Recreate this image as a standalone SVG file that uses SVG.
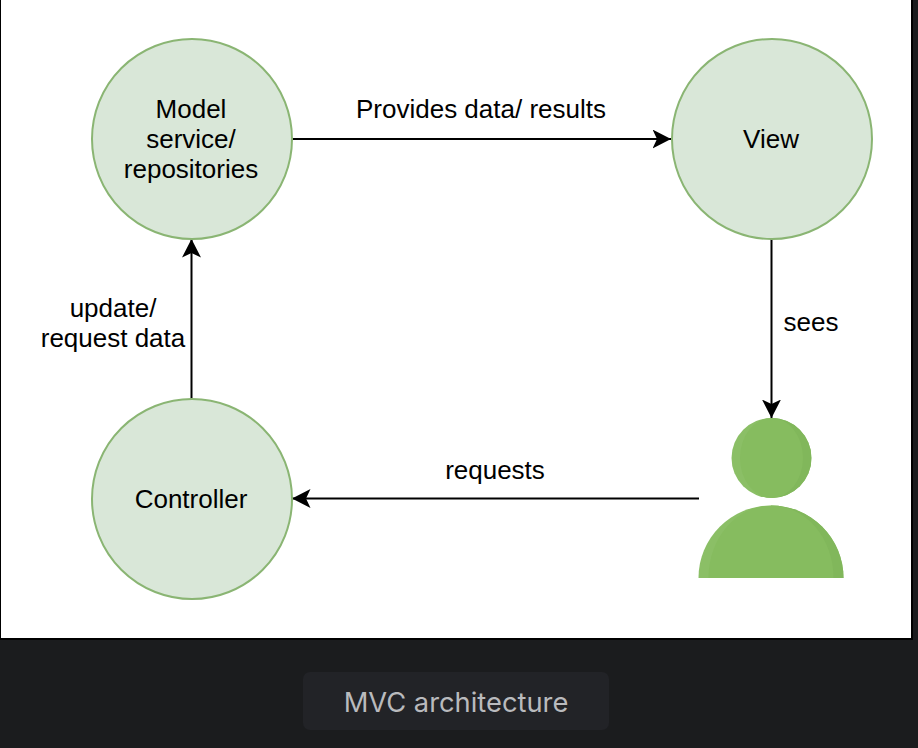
<svg xmlns="http://www.w3.org/2000/svg" width="918" height="748" viewBox="0 0 918 748">
<defs>
<marker id="a" markerUnits="userSpaceOnUse" markerWidth="20" markerHeight="20" refX="18.500" refY="9.500" orient="auto"><path d="M0 0L18.500 9.500L0 19L4.500 9.500Z" fill="#000"/></marker>
<clipPath id="h"><circle cx="771.500" cy="458" r="40"/></clipPath>
<clipPath id="b"><path d="M698.500 578A72.500 72.500 0 0 1 843.500 578Z"/></clipPath>
</defs>
<style>
.n{fill:#d9e7d8;stroke:#8ab573;stroke-width:2}
.t{font-family:"Liberation Sans",Arial,sans-serif;font-size:26px;fill:#000;text-anchor:middle}
.c{fill:none;stroke:#000;stroke-width:2}
.l{fill:#8bbf66}
.d{fill:#81b75b}
.m{fill:#86bc5f}
</style>
<rect width="918" height="748" fill="#1b1c1e"/>
<rect x="0" y="-2" width="912" height="641" fill="#fff" stroke="#000" stroke-width="2"/>
<g id="connectors">
<path class="c" marker-end="url(#a)" d="M292 139H671"/>
<path class="c" marker-end="url(#a)" d="M771.500 239V418"/>
<path class="c" marker-end="url(#a)" d="M699 498.500H292"/>
<path class="c" marker-end="url(#a)" d="M191.500 399V239"/>
</g>
<g id="model"><circle class="n" cx="192" cy="139" r="100"/><text class="t" x="191" y="118">Model</text><text class="t" x="191" y="148">service/</text><text class="t" x="191" y="178">repositories</text></g>
<g id="view"><circle class="n" cx="772" cy="139" r="100"/><text class="t" x="771" y="148">View</text></g>
<g id="controller"><circle class="n" cx="192" cy="499" r="100"/><text class="t" x="191" y="508">Controller</text></g>
<g id="user">
<circle class="l" cx="771.500" cy="458" r="40"/>
<rect class="d" x="771.500" y="418" width="40" height="80" clip-path="url(#h)"/>
<ellipse class="m" cx="771.500" cy="458" rx="31.500" ry="40"/>
<path class="l" d="M698.500 578A72.500 72.500 0 0 1 843.500 578Z"/>
<rect class="d" x="771" y="505" width="73" height="73" clip-path="url(#b)"/>
<ellipse class="m" cx="771" cy="578" rx="62.500" ry="72.500" clip-path="url(#b)"/>
</g>
<g id="labels">
<text class="t" x="481" y="118">Provides data/ results</text>
<text class="t" x="113" y="317">update/</text>
<text class="t" x="113" y="347">request data</text>
<text class="t" x="811" y="331">sees</text>
<text class="t" x="495" y="479">requests</text>
</g>
<g id="caption"><rect x="303" y="672" width="306" height="58" rx="7" fill="#222327"/><text x="456" y="712" font-family="Inter,'Liberation Sans',sans-serif" font-size="27.300" fill="#b9babd" text-anchor="middle">MVC architecture</text></g>
</svg>
